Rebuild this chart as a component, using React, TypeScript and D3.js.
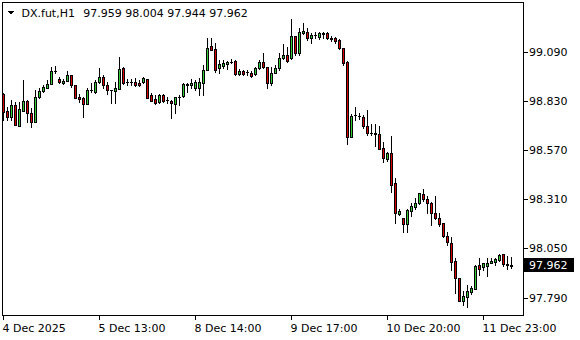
import React from "react";
import * as d3 from "d3";

const symbolTitle = "DX.fut,H1";
const lastOHLC = ["97.959", "98.004", "97.944", "97.962"];

const opens = [
  98.866, 98.776, 98.743, 98.806, 98.699, 98.778, 98.829, 98.764, 98.72, 98.849,
  98.884, 98.9, 98.917, 98.988, 98.944, 98.923, 98.937, 98.967, 98.914, 98.849,
  98.847, 98.812, 98.887, 98.878, 98.928, 98.954, 98.914, 98.887, 98.884, 98.891,
  99.005, 98.931, 98.93, 98.931, 98.926, 98.931, 98.945, 98.861, 98.838, 98.824,
  98.861, 98.832, 98.829, 98.813, 98.851, 98.857, 98.917, 98.912, 98.9, 98.896,
  98.926, 98.993, 99.12, 99.102, 99.002, 99.016, 99.025, 99.037, 99.042, 98.972,
  98.988, 98.981, 98.979, 98.972, 99.002, 99.037, 99.007, 98.923, 98.979, 99.002,
  99.055, 99.072, 99.055, 99.173, 99.085, 99.187, 99.192, 99.16, 99.178, 99.166,
  99.187, 99.187, 99.16, 99.16, 99.152, 99.108, 99.034, 98.641, 98.755, 98.75,
  98.746, 98.697, 98.662, 98.658, 98.655, 98.579, 98.521, 98.553, 98.394, 98.232,
  98.209, 98.179, 98.25, 98.271, 98.289, 98.338, 98.31, 98.292, 98.239, 98.209,
  98.183, 98.116, 98.077, 97.985, 97.892, 97.774, 97.795, 97.818, 97.836, 97.963,
  97.95, 97.957, 97.975, 97.978, 97.989, 98.019, 97.966, 97.959,
];
const highs = [
  98.87, 98.799, 98.834, 98.826, 98.826, 98.94, 98.834, 98.79, 98.887, 98.896,
  98.914, 98.94, 99.011, 99.014, 98.954, 98.944, 98.988, 98.967, 98.914, 98.864,
  98.852, 98.896, 98.923, 98.94, 99.002, 98.967, 98.931, 98.889, 98.931, 99.06,
  99.011, 98.944, 98.944, 98.949, 98.94, 98.958, 98.947, 98.87, 98.861, 98.864,
  98.864, 98.852, 98.834, 98.85, 98.861, 98.923, 98.926, 98.944, 98.94, 98.949,
  99.019, 99.16, 99.16, 99.137, 99.046, 99.046, 99.042, 99.049, 99.046, 98.997,
  98.993, 98.993, 98.988, 99.011, 99.046, 99.081, 99.011, 99.011, 99.019, 99.081,
  99.129, 99.116, 99.261, 99.175, 99.213, 99.243, 99.213, 99.187, 99.196, 99.196,
  99.192, 99.196, 99.174, 99.166, 99.155, 99.111, 99.041, 98.76, 98.799, 98.768,
  98.755, 98.782, 98.708, 98.708, 98.697, 98.614, 98.561, 98.644, 98.421, 98.257,
  98.212, 98.257, 98.289, 98.315, 98.345, 98.363, 98.327, 98.294, 98.327, 98.239,
  98.186, 98.139, 98.112, 97.998, 97.894, 97.822, 97.857, 97.853, 97.963, 97.998,
  97.975, 97.998, 98.001, 98.001, 98.021, 98.02, 98.007, 98.004,
];
const lows = [
  98.729, 98.729, 98.729, 98.702, 98.699, 98.778, 98.72, 98.69, 98.72, 98.843,
  98.878, 98.896, 98.917, 98.975, 98.923, 98.917, 98.937, 98.901, 98.847, 98.826,
  98.743, 98.812, 98.878, 98.873, 98.923, 98.896, 98.866, 98.817, 98.817, 98.891,
  98.919, 98.914, 98.914, 98.908, 98.908, 98.926, 98.847, 98.829, 98.813, 98.817,
  98.826, 98.817, 98.738, 98.764, 98.808, 98.852, 98.878, 98.896, 98.887, 98.861,
  98.861, 98.993, 99.099, 98.984, 98.979, 99.002, 98.997, 99.028, 98.967, 98.967,
  98.967, 98.967, 98.958, 98.967, 98.997, 99.002, 98.896, 98.914, 98.975, 98.993,
  99.049, 99.037, 99.049, 99.072, 99.072, 99.185, 99.152, 99.137, 99.16, 99.155,
  99.16, 99.155, 99.148, 99.137, 99.102, 99.019, 98.602, 98.637, 98.729, 98.732,
  98.685, 98.649, 98.649, 98.591, 98.574, 98.509, 98.514, 98.35, 98.186, 98.227,
  98.139, 98.139, 98.222, 98.257, 98.285, 98.303, 98.236, 98.174, 98.204, 98.169,
  98.109, 98.068, 97.933, 97.816, 97.769, 97.751, 97.742, 97.809, 97.834, 97.91,
  97.933, 97.904, 97.971, 97.963, 97.985, 97.957, 97.94, 97.944,
];
const closes = [
  98.773, 98.743, 98.806, 98.702, 98.787, 98.829, 98.764, 98.72, 98.849, 98.882,
  98.901, 98.917, 98.988, 98.99, 98.928, 98.935, 98.967, 98.914, 98.847, 98.838,
  98.813, 98.887, 98.889, 98.931, 98.954, 98.914, 98.887, 98.885, 98.896, 98.997,
  98.923, 98.929, 98.932, 98.914, 98.914, 98.949, 98.847, 98.831, 98.82, 98.859,
  98.831, 98.834, 98.817, 98.85, 98.852, 98.917, 98.916, 98.923, 98.931, 98.93,
  98.993, 99.111, 99.099, 98.993, 99.023, 99.028, 99.037, 99.038, 98.972, 98.988,
  98.972, 98.98, 98.961, 99.002, 99.037, 99.007, 98.923, 98.979, 99.005, 99.055,
  99.072, 99.042, 99.173, 99.085, 99.196, 99.199, 99.16, 99.178, 99.18, 99.187,
  99.186, 99.16, 99.159, 99.148, 99.108, 99.028, 98.637, 98.752, 98.757, 98.749,
  98.697, 98.662, 98.661, 98.653, 98.574, 98.526, 98.553, 98.385, 98.236, 98.248,
  98.178, 98.253, 98.274, 98.289, 98.341, 98.31, 98.292, 98.236, 98.209, 98.179,
  98.116, 98.081, 97.98, 97.892, 97.774, 97.799, 97.822, 97.839, 97.957, 97.941,
  97.971, 97.975, 97.985, 97.993, 98.015, 97.968, 97.964, 97.962,
];

const priceTicks = [99.09, 98.83, 98.57, 98.31, 98.05, 97.79];
const timeTickBars = [0, 24, 48, 72, 96, 120];
const timeTickLabels = ["4 Dec 2025", "5 Dec 13:00", "8 Dec 14:00", "9 Dec 17:00", "10 Dec 20:00", "11 Dec 23:00"];
const currentPrice = 97.962;

const W = 580;
const H = 340;
const FONT = "'DejaVu Sans', sans-serif";
const BULL = "#32cd32";
const BEAR = "#d80000";

export default function App() {
  const x = d3.scaleLinear().domain([0, 127]).range([3.5, 511.5]);
  const y = d3.scaleLinear().domain([97.79, 99.09]).range([297.5, 51.7]);
  const left = 2.5, right = 523.5, top = 2.5, bottom = 315.5;

  const candles = opens.map((o, i) => {
    const c = closes[i];
    const cx = x(i);
    const yH = Math.round(y(highs[i]));
    const yL = Math.round(y(lows[i]));
    const yO = Math.round(y(o));
    const yC = Math.round(y(c));
    const t = Math.min(yO, yC);
    const b = Math.max(yO, yC);
    const body =
      b - t < 1 ? (
        <line x1={cx - 1.5} x2={cx + 1.5} y1={t + 0.5} y2={t + 0.5} stroke="#000" />
      ) : (
        <rect x={cx - 1} y={t + 0.5} width={2} height={b - t} fill={c >= o ? BULL : BEAR} stroke="#000" />
      );
    return (
      <g key={i}>
        <line x1={cx} x2={cx} y1={yH} y2={yL + 1} stroke="#000" />
        {body}
      </g>
    );
  });

  const cy = y(currentPrice);

  return (
    <div style={{ position: "fixed", left: 0, top: 0, width: W, height: H, background: "#fff" }}>
      <svg width={W} height={H} style={{ display: "block" }} fontFamily={FONT} shapeRendering="crispEdges">
        <rect x={0} y={0} width={W} height={H} fill="#fff" />
        <g clipPath="url(#plotclip)">{candles}</g>
        <defs>
          <clipPath id="plotclip">
            <rect x={3} y={3} width={520} height={312} />
          </clipPath>
        </defs>
        <rect x={left} y={top} width={right - left} height={bottom - top} fill="none" stroke="#000" />
        {priceTicks.map((p) => (
          <g key={p}>
            <line x1={right} x2={right + 4} y1={Math.round(y(p)) + 0.5} y2={Math.round(y(p)) + 0.5} stroke="#000" />
            <text x={529} y={y(p) + 4} fontSize={11} fill="#000" shapeRendering="auto">
              {p.toFixed(3)}
            </text>
          </g>
        ))}
        {timeTickBars.map((b, k) => (
          <g key={b}>
            <line x1={x(b)} x2={x(b)} y1={bottom} y2={bottom + 4} stroke="#000" />
            <text x={x(b) - 1} y={331.5} fontSize={11} fill="#000" shapeRendering="auto">
              {timeTickLabels[k]}
            </text>
          </g>
        ))}
        <rect x={524} y={Math.round(cy) - 7} width={50} height={14} fill="#000" />
        <text x={529} y={cy + 4} fontSize={11} fill="#fff">
          {currentPrice.toFixed(3)}
        </text>
        <path d="M7,10.5 L15,10.5 L11,14.5 Z" fill="#000" />
        <text x={21.5} y={16.5} fontSize={11} fill="#000">
          {symbolTitle}
        </text>
        <text x={83.3} y={16.5} fontSize={11} fill="#000">
          {lastOHLC.join(" ")}
        </text>
      </svg>
    </div>
  );
}
